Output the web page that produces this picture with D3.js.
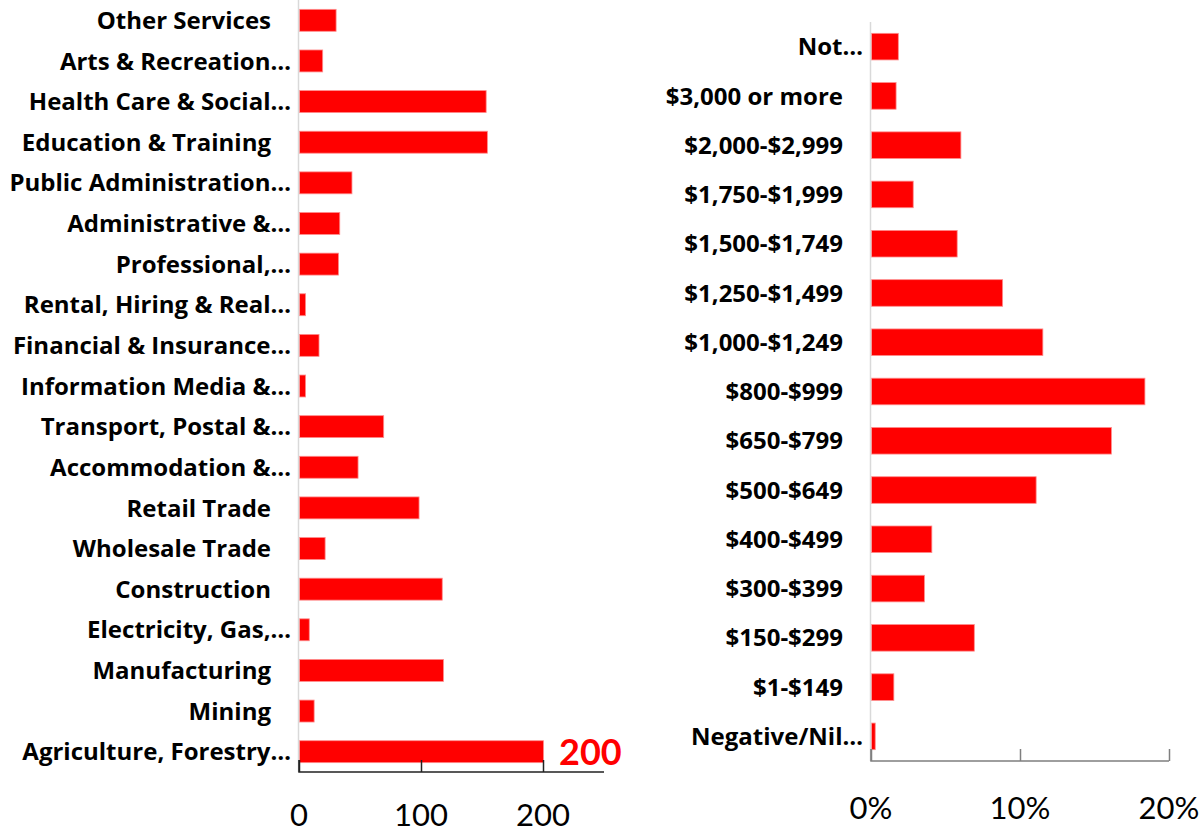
<!DOCTYPE html>
<html>
<head>
<meta charset="utf-8">
<script src="https://cdn.jsdelivr.net/npm/d3@7"></script>
<style>
  body { margin: 0; background: #fff; }
  svg { display: block; font-family: Lato, "Open Sans", sans-serif; }
  .cat { font-family: "Open Sans", sans-serif; font-weight: bold; font-size: 24px; fill: #000; }
  .tick-label { font-size: 31px; fill: #000; }
</style>
</head>
<body>
<svg id="chart" width="1202" height="834"></svg>
<script>
// Industry of employment (counts), listed bottom to top
const industries = [
  "Agriculture, Forestry…", "Mining", "Manufacturing", "Electricity, Gas,…",
  "Construction", "Wholesale Trade", "Retail Trade", "Accommodation &…",
  "Transport, Postal &…", "Information Media &…", "Financial & Insurance…",
  "Rental, Hiring & Real…", "Professional,…", "Administrative &…",
  "Public Administration…", "Education & Training", "Health Care & Social…",
  "Arts & Recreation…", "Other Services"
];
const industryValues = [200, 12, 118, 8, 117, 21, 98, 48, 69, 5, 16, 5, 32, 33, 43, 154, 153, 19, 30];
const industryTicks = [0, 100, 200];

// Weekly income (% of people), listed bottom to top
const incomes = [
  "Negative/Nil…", "$1-$149", "$150-$299", "$300-$399", "$400-$499",
  "$500-$649", "$650-$799", "$800-$999", "$1,000-$1,249", "$1,250-$1,499",
  "$1,500-$1,749", "$1,750-$1,999", "$2,000-$2,999", "$3,000 or more", "Not…"
];
const incomeValues = [0.25, 1.5, 6.9, 3.55, 4.05, 11.05, 16.1, 18.35, 11.5, 8.8, 5.75, 2.8, 6.0, 1.65, 1.8];
const incomeTicks = [0, 10, 20];

const svg = d3.select("#chart");

function drawPanel(opts) {
  const { cats, values, ticks, domainMax, x0, x1, y0, y1, axisColor, tickFmt, tickY } = opts;
  const g = svg.append("g");

  const x = d3.scaleLinear().domain([0, domainMax]).range([x0, x1]);
  const y = d3.scaleBand()
    .domain(cats.slice().reverse())
    .range([y0, y1])
    .paddingInner(0.46)
    .paddingOuter(0.23);

  // bars
  g.selectAll("rect.bar")
    .data(cats.map((c, i) => ({ c, v: values[i] })))
    .join("rect")
    .attr("class", "bar")
    .attr("x", x(0) + 0.5)
    .attr("y", (d) => y(d.c))
    .attr("width", (d) => Math.max(0, x(d.v) - x(0)))
    .attr("height", y.bandwidth())
    .attr("fill", "#ff0000")
    .attr("stroke", "#ff8c8c")
    .attr("stroke-width", 0.8);

  // vertical category axis
  g.append("line")
    .attr("x1", x(0) - 0.5).attr("x2", x(0) - 0.5)
    .attr("y1", y0).attr("y2", y1)
    .attr("stroke", "#d9d9d9").attr("stroke-width", 1.5);

  // category labels (full names sit further left than truncated ones)
  g.selectAll("text.cat")
    .data(cats)
    .join("text")
    .attr("class", "cat")
    .attr("text-anchor", "end")
    .attr("x", (d) => x(0) - (d.endsWith("…") ? 8 : 28))
    .attr("y", (d) => y(d) + y.bandwidth() / 2)
    .attr("dy", "0.36em")
    .text((d) => d);

  // value axis
  const axis = d3.axisBottom(x).tickValues(ticks).tickSize(-12).tickFormat("");
  const ax = g.append("g").attr("transform", `translate(0,${y1})`).call(axis);
  ax.select(".domain").attr("stroke", axisColor).attr("stroke-width", 1.5)
    .attr("d", `M${x0},-12V0H${x1}`);
  ax.selectAll(".tick line").attr("stroke", axisColor).attr("stroke-width", 1.5);

  g.selectAll("text.tick-label")
    .data(ticks)
    .join("text")
    .attr("class", "tick-label")
    .attr("text-anchor", "middle")
    .attr("x", (d) => x(d))
    .attr("y", tickY)
    .text(tickFmt);

  return { x, y, g };
}

const left = drawPanel({
  cats: industries, values: industryValues, ticks: industryTicks, domainMax: 250,
  x0: 299, x1: 604, y0: 0, y1: 772, axisColor: "#222",
  tickFmt: (d) => d, tickY: 826
});

// highlighted value label on the largest bar
const maxIdx = d3.maxIndex(industryValues);
left.g.append("text")
  .attr("x", left.x(industryValues[maxIdx]) + 16)
  .attr("y", left.y(industries[maxIdx]) + left.y.bandwidth() / 2)
  .attr("dy", "0.36em")
  .attr("fill", "#ff0000")
  .attr("font-weight", "bold")
  .attr("font-size", "36px")
  .text(industryValues[maxIdx]);

drawPanel({
  cats: incomes, values: incomeValues, ticks: incomeTicks, domainMax: 20,
  x0: 871, x1: 1169, y0: 22, y1: 761, axisColor: "#7f7f7f",
  tickFmt: (d) => d + "%", tickY: 819
});
</script>
</body>
</html>
